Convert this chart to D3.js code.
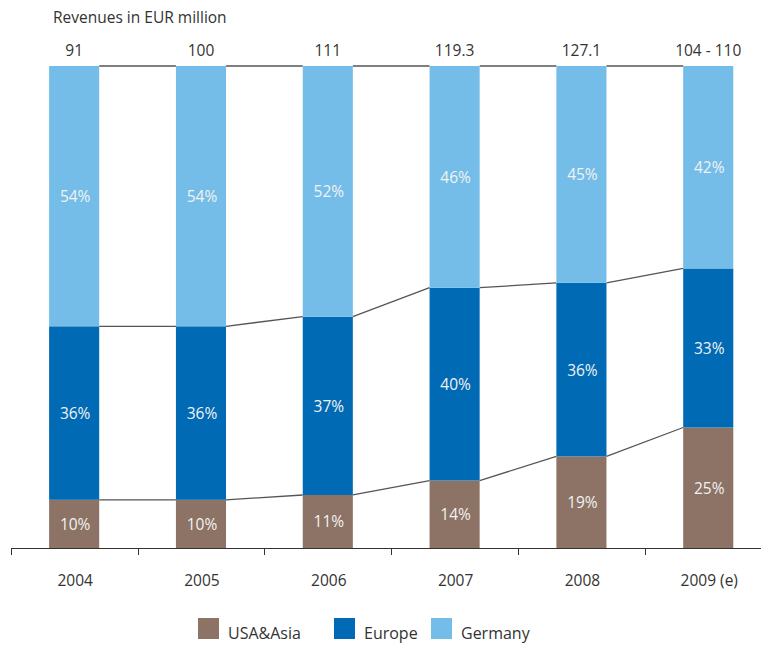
<!DOCTYPE html>
<html><head><meta charset="utf-8">
<script src="https://cdn.jsdelivr.net/npm/d3@7"></script>
<style>body{margin:0;background:#fff}svg{display:block}text{font-family:"Open Sans",sans-serif}</style>
</head><body>
<svg id="c" width="761" height="645"></svg>
<script>
const years = ["2004","2005","2006","2007","2008","2009 (e)"];
const totals = ["91","100","111","119.3","127.1","104 - 110"];
const usaAsia = [10,10,11,14,19,25];
const europe = [36,36,37,40,36,33];
const germany = [54,54,52,46,45,42];
const seriesNames = ["USA&Asia","Europe","Germany"];
const colors = ["#8c7365","#006ab5","#74bde8"];

const svg = d3.select("#c");
const x = d3.scaleBand().domain(years).range([11.7, 770.7]).paddingInner(0.605).paddingOuter(0.295);
const y = d3.scaleLinear().domain([0,100]).range([548,66]);
const bw = x.bandwidth();
const gap = x.step() - bw;

const rows = years.map((yr,i)=>({year:yr, "USA&Asia":usaAsia[i], Europe:europe[i], Germany:germany[i]}));
const stack = d3.stack().keys(seriesNames)(rows);

// connector lines
const lineG = svg.append("g").attr("stroke","#555").attr("stroke-width",1.3).attr("fill","none");
stack.forEach(layer=>{
  for(let i=0;i<years.length-1;i++){
    lineG.append("line")
      .attr("x1", x(years[i])+bw).attr("y1", y(layer[i][1]))
      .attr("x2", x(years[i+1])).attr("y2", y(layer[i+1][1]));
  }
});

// bars
stack.forEach((layer,k)=>{
  svg.append("g").attr("fill",colors[k]).selectAll("rect").data(layer).join("rect")
    .attr("x",d=>x(d.data.year)).attr("width",bw)
    .attr("y",d=>y(d[1])).attr("height",d=>y(d[0])-y(d[1]));
  svg.append("g").selectAll("text").data(layer).join("text")
    .attr("x",d=>x(d.data.year)+bw/2+1)
    .attr("y",d=>(y(d[0])+y(d[1]))/2+6)
    .attr("text-anchor","middle").attr("fill","#f2f2f2").attr("font-size",15.5)
    .text(d=>(d[1]-d[0])+"%");
});

// totals
svg.append("g").selectAll("text").data(years).join("text")
  .attr("x",d=>x(d)+bw/2).attr("y",56)
  .attr("text-anchor","middle").attr("fill","#333").attr("font-size",15.5)
  .text((d,i)=>totals[i]);

// title
svg.append("text").attr("x",53).attr("y",22.5).attr("fill","#333").attr("font-size",15.5).text("Revenues in EUR million");

// axis
const axisG = svg.append("g").attr("stroke","#333").attr("stroke-width",1);
axisG.append("line").attr("x1",x.range()[0]).attr("x2",x.range()[1]).attr("y1",548.5).attr("y2",548.5);
years.forEach(yr=>{
  const tx = Math.round(x(yr)-gap/2)+0.5;
  axisG.append("line").attr("x1",tx).attr("x2",tx).attr("y1",548).attr("y2",555);
});
svg.append("g").selectAll("text").data(years).join("text")
  .attr("x",d=>x(d)+bw/2+1).attr("y",586)
  .attr("text-anchor","middle").attr("fill","#333").attr("font-size",15.5)
  .text(d=>d);

// legend
const legX = [198,334,431];
seriesNames.forEach((s,k)=>{
  svg.append("rect").attr("x",legX[k]).attr("y",618).attr("width",21).attr("height",21).attr("fill",colors[k]);
  svg.append("text").attr("x",legX[k]+30).attr("y",638.5).attr("fill","#333").attr("font-size",16).text(s);
});
</script>
</body></html>
